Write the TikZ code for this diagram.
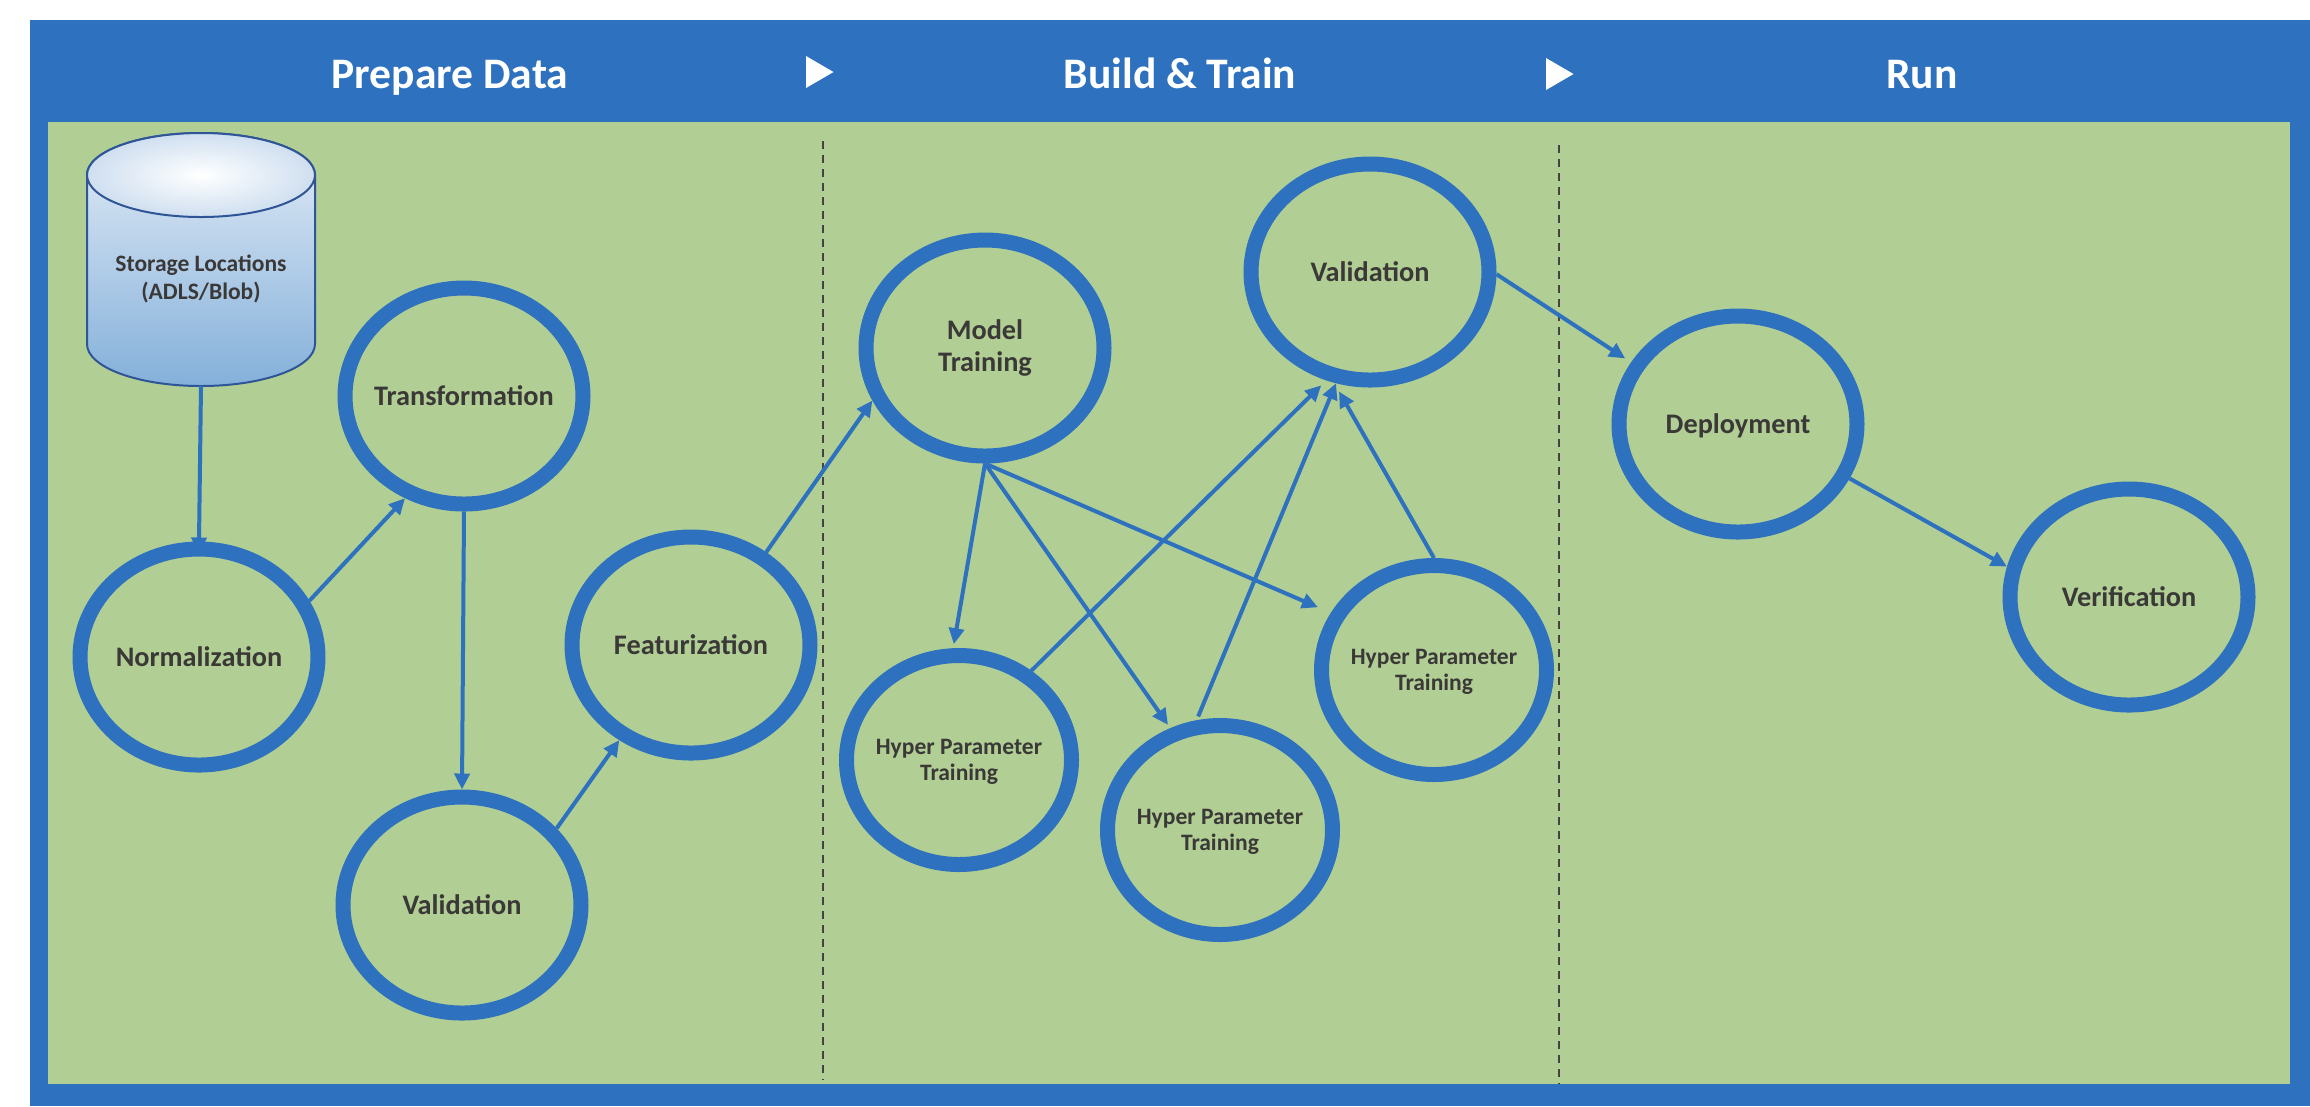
\documentclass[tikz,border=0pt]{standalone}
\usepackage{fontspec}
\setmainfont{Carlito}
\usetikzlibrary{arrows.meta,positioning,shapes}
\definecolor{bandblue}{HTML}{2E71BF}
\definecolor{panelgreen}{HTML}{B1CE94}
\definecolor{labelgray}{HTML}{3B3838}
\definecolor{rimblue}{HTML}{2F5597}
\definecolor{drumtop}{HTML}{E4EDF7}
\definecolor{drumfoot}{HTML}{84B0DA}
\definecolor{drumcap}{HTML}{CFDFF0}

\begin{document}
\begin{tikzpicture}[x=0.1mm,y=-0.1mm]
\tikzstyle{stage} = [draw=bandblue, ellipse, line width=1.5mm, inner sep=-4mm, align=center, minimum width=23.8mm, minimum height=21.6mm, text=labelgray, font=\fontsize{8.05}{9}\selectfont\bfseries]
\tikzstyle{hyper} = [stage, minimum width=22.5mm, minimum height=20.9mm, text depth=0pt, font=\fontsize{6.7}{7.3}\selectfont\bfseries]
\tikzstyle{title} = [anchor=base, text=white, font=\fontsize{12.4}{14}\selectfont\bfseries]
\tikzstyle{flow} = [draw=bandblue, line width=0.4mm, -{Triangle[length=1.6mm,width=1.5mm]}]
\tikzstyle{divider} = [draw=labelgray!95, line width=0.25mm, dash pattern=on 0.8mm off 0.6mm]
\useasboundingbox (0,0) rectangle (2310,1106);
\fill [bandblue] (30,20) rectangle (2310,1106);
\fill [panelgreen] (48,122) rectangle (2290,1084);
\fill [white] (806,56) -- (833.5,72) -- (806,88) -- cycle;
\fill [white] (1546,58) -- (1573.5,74) -- (1546,90) -- cycle;
\path
(450,88) node [title] (prepare) {Prepare Data}
(1180,88) node [title] (build) {Build \& Train}
(1922,88) node [title] (run) {Run};
\coordinate (cut1top) at (823,141);
\coordinate (cut1end) at (823,1080);
\coordinate (cut2top) at (1559,145);
\coordinate (cut2end) at (1559,1084);
\draw [divider] (cut1top) -- (cut1end);
\draw [divider] (cut2top) -- (cut2end);
% storage
\draw [draw=rimblue, line width=0.2mm, top color=drumtop, bottom color=drumfoot] (87,175) -- (87,344) arc (180:360:11.4mm and 4.2mm) -- (315,175) arc (0:180:11.4mm and 4.2mm) -- cycle;
\node [ellipse, draw=rimblue, line width=0.2mm, inner color=white, outer color=drumcap, minimum width=22.8mm, minimum height=8.4mm, inner sep=0pt, outer sep=0pt] (storecap) at (201,175) {};
\node [minimum width=22.8mm, minimum height=25.3mm, inner sep=0pt, outer sep=0pt] (store) at (201,259.5) {};
\node [text=labelgray, align=center, font=\fontsize{6.7}{8}\selectfont\bfseries] (storelabel) at (201,279) {Storage Locations\\(ADLS/Blob)};
\draw
(199,657) node [stage] (norm) {Normalization}
(464,396) node [stage] (trans) {Transformation}
(462,905) node [stage] (valid) {Validation}
(691,645) node [stage] (feat) {Featurization}
(985,348) node [stage] (model) {Model\\Training}
(1370,272) node [stage] (check) {Validation}
(959,760) node [hyper] (hyper1) {Hyper Parameter\\Training}
(1220,830) node [hyper] (hyper2) {Hyper Parameter\\Training}
(1434,670) node [hyper] (hyper3) {Hyper Parameter\\Training}
(1738,424) node [stage, text depth=0pt] (deploy) {Deployment}
(2129,597) node [stage] (verify) {Verification};
\draw [flow, shorten >=-1.2mm] (store.south) -- (norm.north);
\draw [flow] (norm.27) -- (trans.-120);
\draw [flow] (trans.south) -- (valid.north);
\draw [flow] (valid.39.5) -- (feat.233.6);
\draw [flow] (feat.51.6) -- (model.205.5);
\draw [flow, shorten >=0.4mm] (model.south) -- (hyper1.93);
\draw [flow, shorten >=0.4mm] (model.south) -- (hyper2.116);
\draw [flow, shorten >=1.4mm] (model.south) -- (hyper3.151.4);
\draw [flow, shorten >=0.7mm] (hyper1.51.3) -- (check.248.2);
\draw [flow, shorten <=0.4mm] (hyper2.102.5) -- (check.253.4);
\draw [flow, shorten >=1mm] (hyper3.north) -- (check.252.8);
\draw [flow, shorten >=0.7mm] (check.-1) -- (deploy.150.3);
\draw [flow] (deploy.-26) -- (verify.166.8);
\end{tikzpicture}
\end{document}
